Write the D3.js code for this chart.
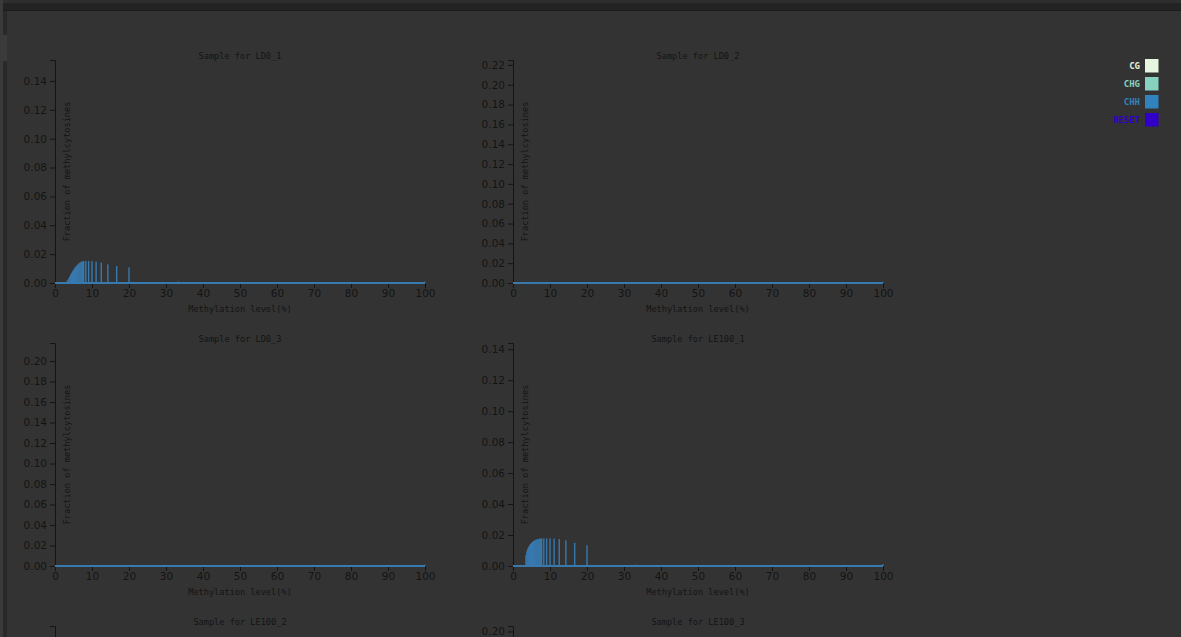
<!DOCTYPE html>
<html>
<head>
<meta charset="utf-8">
<script src="https://cdn.jsdelivr.net/npm/d3@7"></script>
<style>
  html, body { margin: 0; padding: 0; background: #333333; overflow: hidden; }
  svg { display: block; }
</style>
</head>
<body>
<svg id="chart" width="1181" height="637"></svg>
<script>
// Samples shown in the grid, read left to right, top to bottom
const samples = ["LD0_1", "LD0_2", "LD0_3", "LE100_1", "LE100_2", "LE100_3"];

// Upper end of each sample's y axis (fraction of methylcytosines)
const yAxisMax = [0.1545, 0.225, 0.2176, 0.144, 0.152, 0.205];

// Methylation levels (%) at which CHH fractions are reported
const levels = [
  3.0, 3.25, 3.5, 3.75, 4.0, 4.25, 4.5, 4.75, 5.0, 5.25,
  5.5, 5.75, 6.0, 6.25, 6.5, 6.75, 7.0, 7.25, 7.5, 7.75,
  8.33, 9.09, 10, 11.11, 12.5, 14.29, 16.67, 20,
  25, 28.57, 33.33, 40, 50, 66.67, 75, 100
];

// CHH fraction of methylcytosines per level, one list per sample
const chhLD0_1 = [
  0.0003, 0.0012, 0.0022, 0.0033, 0.0045, 0.0058, 0.0070, 0.0081, 0.0091, 0.0100,
  0.0109, 0.0117, 0.0124, 0.0130, 0.0136, 0.0141, 0.0145, 0.0148, 0.0150, 0.0151,
  0.0152, 0.0152, 0.0152, 0.0148, 0.0141, 0.0129, 0.0118, 0.0108,
  0.0006, 0.0004, 0.0010, 0.0005, 0.0006, 0.0004, 0.0003, 0.0009
];
const chhLD0_2 = [
  0.0001, 0.0001, 0.0001, 0.0001, 0.0001, 0.0001, 0.0001, 0.0001, 0.0001, 0.0001,
  0.0001, 0.0001, 0.0001, 0.0001, 0.0001, 0.0001, 0.0001, 0.0001, 0.0001, 0.0001,
  0.0001, 0.0001, 0.0002, 0.0001, 0.0001, 0.0001, 0.0002, 0.0002,
  0.0004, 0.0002, 0.0009, 0.0003, 0.0004, 0.0003, 0.0002, 0.0012
];
const chhLD0_3 = [
  0.0001, 0.0001, 0.0001, 0.0001, 0.0001, 0.0001, 0.0001, 0.0001, 0.0001, 0.0001,
  0.0001, 0.0001, 0.0001, 0.0001, 0.0001, 0.0001, 0.0001, 0.0001, 0.0001, 0.0001,
  0.0001, 0.0001, 0.0002, 0.0001, 0.0001, 0.0001, 0.0002, 0.0002,
  0.0004, 0.0002, 0.0008, 0.0003, 0.0004, 0.0003, 0.0002, 0.0011
];
const chhLE100_1 = [
  0.0000, 0.0000, 0.0070, 0.0095, 0.0112, 0.0124, 0.0134, 0.0142, 0.0149, 0.0155,
  0.0160, 0.0164, 0.0167, 0.0170, 0.0172, 0.0174, 0.0175, 0.0176, 0.0177, 0.0178,
  0.0178, 0.0178, 0.0178, 0.0177, 0.0174, 0.0166, 0.0149, 0.0134,
  0.0004, 0.0003, 0.0009, 0.0006, 0.0006, 0.0004, 0.0002, 0.0012
];
const chhLE100_2 = [
  0.0001, 0.0001, 0.0001, 0.0001, 0.0001, 0.0001, 0.0001, 0.0001, 0.0001, 0.0001,
  0.0001, 0.0001, 0.0001, 0.0001, 0.0001, 0.0001, 0.0001, 0.0001, 0.0001, 0.0001,
  0.0001, 0.0001, 0.0002, 0.0001, 0.0001, 0.0001, 0.0002, 0.0002,
  0.0004, 0.0002, 0.0008, 0.0003, 0.0004, 0.0003, 0.0002, 0.0011
];
const chhLE100_3 = [
  0.0001, 0.0001, 0.0001, 0.0001, 0.0001, 0.0001, 0.0001, 0.0001, 0.0001, 0.0001,
  0.0001, 0.0001, 0.0001, 0.0001, 0.0001, 0.0001, 0.0001, 0.0001, 0.0001, 0.0001,
  0.0001, 0.0001, 0.0002, 0.0001, 0.0001, 0.0001, 0.0002, 0.0002,
  0.0004, 0.0002, 0.0008, 0.0003, 0.0004, 0.0003, 0.0002, 0.0011
];
const chhSeries = [chhLD0_1, chhLD0_2, chhLD0_3, chhLE100_1, chhLE100_2, chhLE100_3];

// x axis extent
const xDomain = [0, 100];

// Legend entries
const legendLabels = ["CG", "CHG", "CHH", "RESET"];
const legendColors = ["#e5f5e0", "#86d2bf", "#3182bd", "#3000c8"];

const barColor = "#3879ae";
const inkColor = "#141414";
const monoFont = "'DejaVu Sans Mono', monospace";
const viewH = 637;

const svg = d3.select("#chart");

// page chrome: header strip and left scroll gutter
svg.append("rect").attr("x", 0).attr("y", 0).attr("width", 1181).attr("height", 637).attr("fill", "#333333");
svg.append("rect").attr("x", 0).attr("y", 0).attr("width", 1181).attr("height", 3).attr("fill", "#2e2e2e");
svg.append("rect").attr("x", 0).attr("y", 3).attr("width", 1181).attr("height", 7).attr("fill", "#232323");
svg.append("rect").attr("x", 0).attr("y", 10).attr("width", 1181).attr("height", 1).attr("fill", "#1b1b1b");
svg.append("rect").attr("x", 0).attr("y", 0).attr("width", 3).attr("height", 637).attr("fill", "#3a3a3a");
svg.append("rect").attr("x", 3).attr("y", 11).attr("width", 4).attr("height", 626).attr("fill", "#292929");
svg.append("rect").attr("x", 3).attr("y", 35).attr("width", 4).attr("height", 26).attr("fill", "#3b3b3b");

// panel geometry
const plotW = 370, plotH = 223;
const colStep = 458, rowStep = 283;
const left0 = 55, top0 = 60;

samples.forEach((name, i) => {
  const col = i % 2, row = Math.floor(i / 2);
  const ox = left0 + col * colStep;
  const oy = top0 + row * rowStep;

  const x = d3.scaleLinear().domain(xDomain).range([0, plotW]);
  const y = d3.scaleLinear().domain([0, yAxisMax[i]]).range([plotH, 0]);

  const g = svg.append("g").attr("transform", `translate(${ox},${oy})`);

  // title
  g.append("text")
    .attr("x", plotW / 2).attr("y", -1)
    .attr("text-anchor", "middle")
    .attr("font-family", monoFont).attr("font-size", 8.6)
    .attr("fill", inkColor)
    .text("Sample for " + name);

  // y axis
  const yAxis = g.append("g")
    .call(d3.axisLeft(y).ticks(10).tickFormat(d3.format(".2f")).tickSize(5).tickPadding(3));
  // x axis
  const xAxis = g.append("g").attr("transform", `translate(0,${plotH})`)
    .call(d3.axisBottom(x).ticks(10).tickSize(5).tickPadding(2));

  [yAxis, xAxis].forEach(ax => {
    ax.select(".domain").attr("stroke", inkColor);
    ax.selectAll(".tick line").attr("stroke", inkColor);
    ax.selectAll(".tick text")
      .attr("fill", inkColor)
      .attr("font-family", "'DejaVu Sans', sans-serif")
      .attr("font-size", 10.5);
  });

  // axis titles
  g.append("text")
    .attr("x", plotW / 2).attr("y", plotH + 29)
    .attr("text-anchor", "middle")
    .attr("font-family", monoFont).attr("font-size", 8.6)
    .attr("fill", inkColor)
    .text("Methylation level(%)");

  g.append("text")
    .attr("transform", `translate(15,${plotH / 2}) rotate(-90)`)
    .attr("text-anchor", "middle")
    .attr("font-family", monoFont).attr("font-size", 8.6)
    .attr("fill", inkColor)
    .text("Fraction of methylcytosines");

  // CHH distribution: near-zero floor across the whole range, then one bar per level
  g.append("line")
    .attr("x1", x(xDomain[0])).attr("x2", x(xDomain[1]))
    .attr("y1", y(0)).attr("y2", y(0))
    .attr("stroke", barColor).attr("stroke-width", 2);

  const pts = levels.map((lv, k) => ({ level: lv, value: chhSeries[i][k] }));
  const barW = 1.4;
  g.append("g").selectAll("rect")
    .data(pts)
    .join("rect")
    .attr("x", d => x(d.level) - barW / 2)
    .attr("width", barW)
    .attr("y", d => y(d.value))
    .attr("height", d => Math.max(0, y(0) - y(d.value)))
    .attr("fill", barColor);
});

// labels that fall entirely below the visible page are dropped
svg.selectAll("text").each(function () {
  const r = this.getBoundingClientRect();
  if (r.top >= viewH - 1) d3.select(this).remove();
});

// legend
const legend = svg.append("g").attr("transform", "translate(1145,59)");
legendLabels.forEach((lab, k) => {
  const row = legend.append("g").attr("transform", `translate(0,${k * 18})`);
  row.append("rect").attr("width", 13.5).attr("height", 13.5).attr("fill", legendColors[k]);
  row.append("text")
    .attr("x", -5).attr("y", 10)
    .attr("text-anchor", "end")
    .attr("font-family", monoFont).attr("font-size", 9).attr("font-weight", "bold")
    .attr("fill", legendColors[k])
    .text(lab);
});
</script>
</body>
</html>
